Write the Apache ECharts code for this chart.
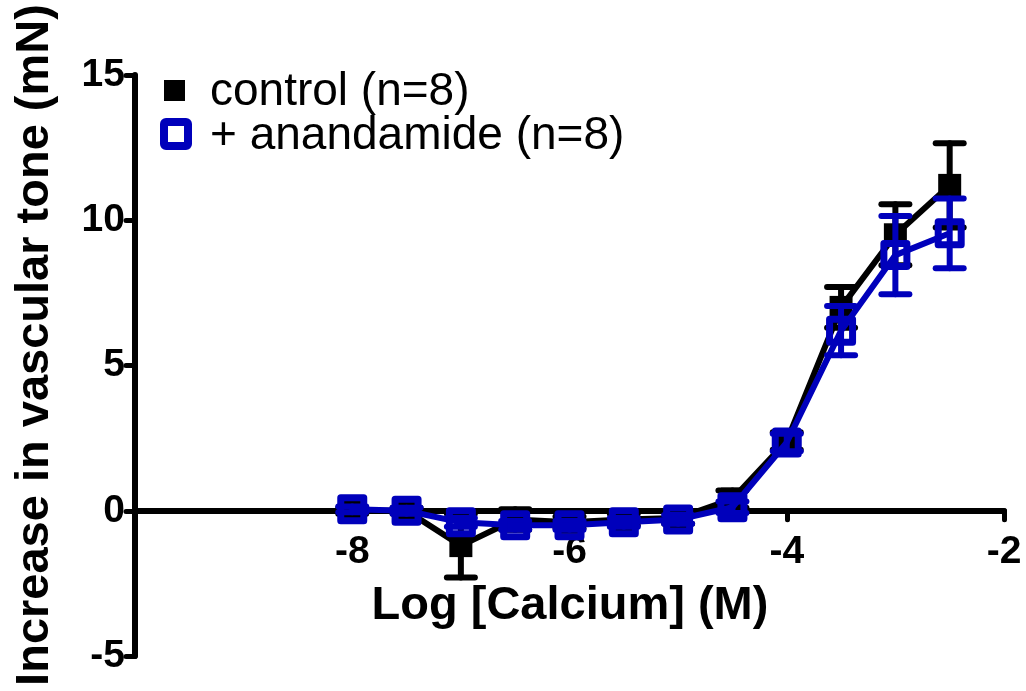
<!DOCTYPE html>
<html>
<head>
<meta charset="utf-8">
<script src="https://cdn.jsdelivr.net/npm/echarts@6/dist/echarts.min.js"></script>
<style>
  html, body { margin: 0; padding: 0; background: #fff; }
  #chart { width: 1026px; height: 691px; }
</style>
</head>
<body>
<div id="chart"></div>
<script>
// Log [Calcium] (M) concentrations
const logCalcium = [-8, -7.5, -7, -6.5, -6, -5.5, -5, -4.5, -4, -3.5, -3, -2.5];
// Control: mean and SEM (mN)
const controlMean = [0.0, 0.0, -1.2, -0.3, -0.4, -0.3, -0.25, 0.4, 2.4, 7.0, 9.5, 11.2];
const controlSem  = [0.1, 0.1, 1.1, 0.35, 0.2, 0.2, 0.2, 0.3, 0.3, 0.7, 1.05, 1.45];
// + anandamide: mean and SEM (mN)
const anaMean = [0.05, 0.0, -0.4, -0.5, -0.5, -0.4, -0.3, 0.12, 2.35, 6.2, 8.8, 9.55];
const anaSem  = [0.1, 0.1, 0.15, 0.15, 0.15, 0.15, 0.15, 0.2, 0.3, 0.85, 1.35, 1.2];
// Axis ticks
const xTicks = [-8, -6, -4, -2];
const yTicks = [-5, 0, 5, 10, 15];
const Y_MIN = -5, Y_MAX = 15;

const BLUE = '#0000BB';
const FONT = '"Liberation Sans", Arial, Helvetica, sans-serif';

// plot area
const GRID = { left: 135, right: 22, top: 75, bottom: 35 };
const plotH = 691 - GRID.top - GRID.bottom;
// shift the x axis (line, ticks, labels) up from the bottom edge to y = 0
const xAxisOffset = -plotH * (0 - Y_MIN) / (Y_MAX - Y_MIN);

const meanPairs = (m) => logCalcium.map((x, i) => [x, m[i]]);
const errRows = (m, s) => logCalcium.map((x, i) => [x, m[i] - s[i], m[i] + s[i]]);

function errorBars(color) {
  return function (params, api) {
    const x = api.value(0);
    const lo = api.coord([x, api.value(1)]);
    const hi = api.coord([x, api.value(2)]);
    const half = 14;
    const st = { stroke: color, lineWidth: 6, lineCap: 'round' };
    return {
      type: 'group',
      children: [
        { type: 'line', shape: { x1: hi[0], y1: hi[1], x2: lo[0], y2: lo[1] }, style: st },
        { type: 'line', shape: { x1: hi[0] - half, y1: hi[1], x2: hi[0] + half, y2: hi[1] }, style: st },
        { type: 'line', shape: { x1: lo[0] - half, y1: lo[1], x2: lo[0] + half, y2: lo[1] }, style: st }
      ]
    };
  };
}

const chart = echarts.init(document.getElementById('chart'), null, { renderer: 'canvas' });
chart.setOption({
  animation: false,
  backgroundColor: '#ffffff',
  grid: Object.assign({ containLabel: false, outerBoundsMode: 'none' }, GRID),
  xAxis: {
    type: 'value',
    min: -10, max: -2, interval: 2,
    offset: xAxisOffset,
    axisLine: { onZero: false, lineStyle: { color: '#000', width: 6, cap: 'round' } },
    axisTick: { show: true, length: 9, lineStyle: { color: '#000', width: 5, cap: 'round' } },
    axisLabel: {
      margin: 22,
      color: '#000', fontFamily: FONT, fontWeight: 'bold', fontSize: 39,
      formatter: (v) => (xTicks.includes(v) ? String(v) : '')
    },
    splitLine: { show: false }
  },
  yAxis: {
    type: 'value',
    min: Y_MIN, max: Y_MAX, interval: 5,
    axisLine: { show: true, onZero: false, lineStyle: { color: '#000', width: 6, cap: 'round' } },
    axisTick: { show: true, length: 9, lineStyle: { color: '#000', width: 5, cap: 'round' } },
    axisLabel: {
      margin: 10,
      color: '#000', fontFamily: FONT, fontWeight: 'bold', fontSize: 39,
      formatter: (v) => (yTicks.includes(v) ? String(v) : '')
    },
    splitLine: { show: false }
  },
  graphic: [
    {
      type: 'text', x: 570, y: 606,
      style: {
        text: 'Log [Calcium] (M)',
        font: 'bold 47px ' + FONT, fill: '#000',
        textAlign: 'center', textVerticalAlign: 'middle'
      }
    },
    {
      type: 'text',
      x: 35, y: 345, rotation: Math.PI / 2,
      style: {
        text: 'Increase in vascular tone (mN)',
        font: 'bold 47px ' + FONT, fill: '#000',
        textAlign: 'center', textVerticalAlign: 'middle'
      }
    },
    // legend entries
    {
      type: 'rect', x: 164, y: 80,
      shape: { width: 21, height: 21 },
      style: { fill: '#000' }
    },
    {
      type: 'text', x: 210, y: 92,
      style: {
        text: 'control (n=8)', font: '46px ' + FONT, fill: '#000',
        textAlign: 'left', textVerticalAlign: 'middle'
      }
    },
    {
      type: 'rect', x: 164, y: 122,
      shape: { width: 24, height: 24, r: 2 },
      style: { fill: '#fff', stroke: BLUE, lineWidth: 8 }
    },
    {
      type: 'text', x: 210, y: 136,
      style: {
        text: '+ anandamide (n=8)', font: '46px ' + FONT, fill: '#000',
        textAlign: 'left', textVerticalAlign: 'middle'
      }
    }
  ],
  series: [
    {
      name: 'control (n=8) SEM', type: 'custom', z: 2,
      renderItem: errorBars('#000'),
      data: errRows(controlMean, controlSem)
    },
    {
      name: 'control (n=8)', type: 'line', z: 3,
      data: meanPairs(controlMean),
      symbol: 'rect', symbolSize: 23,
      lineStyle: { color: '#000', width: 6 },
      itemStyle: { color: '#000', borderWidth: 0 }
    },
    {
      name: '+ anandamide (n=8) SEM', type: 'custom', z: 4,
      renderItem: errorBars(BLUE),
      data: errRows(anaMean, anaSem)
    },
    {
      name: '+ anandamide (n=8)', type: 'line', z: 5,
      data: meanPairs(anaMean),
      symbol: 'rect', symbolSize: 23,
      lineStyle: { color: BLUE, width: 6 },
      itemStyle: { color: 'rgba(0,0,0,0)', borderColor: BLUE, borderWidth: 7, borderJoin: 'round' }
    }
  ]
});
</script>
</body>
</html>
